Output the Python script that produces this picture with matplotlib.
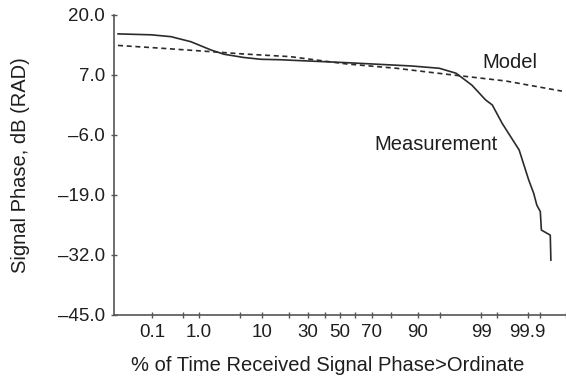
import math
from statistics import NormalDist

import numpy as np
import matplotlib
matplotlib.use("Agg")
import matplotlib.pyplot as plt

# valores (% do tempo, fase em dB)
meas_pct = [0.013, 0.095, 0.27, 0.71, 1.7, 2.8, 5.6, 9.6, 16.4, 20.7, 54.0, 88.0,
            94.9, 97.2, 98.5, 99.17, 99.39, 99.62, 99.84, 99.905, 99.928,
            99.940, 99.951, 99.954, 99.973, 99.974]
meas_db = [15.9, 15.7, 15.3, 14.2, 12.4, 11.5, 10.8, 10.4, 10.3, 10.2, 9.67, 8.95,
           8.45, 7.37, 4.8, 1.6, 0.5, -3.5, -9.25, -15.75, -18.6,
           -21.2, -22.6, -26.6, -27.7, -33.1]

model_pct = [0.013, 0.16, 1.7, 5.6, 20.7, 54.0, 82.3, 92.9, 97.5, 99.68, 99.987]
model_db = [13.4, 12.8, 12.05, 11.55, 10.97, 9.4, 8.45, 7.6, 6.85, 5.7, 3.5]

xticks = [0.1, 0.5, 1.0, 5, 10, 20, 30, 40, 50, 60, 70, 80, 90, 95,
          99, 99.5, 99.9, 99.95, 99.99]
xtick_labels = ["0.1", "", "1.0", "", "10", "", "30", "", "50", "", "70", "",
                "90", "", "99", "", "99.9", "", ""]
yticks = [20.0, 7.0, -6.0, -19.0, -32.0, -45.0]

_nd = NormalDist()

# escala de probabilidade normal (papel de probabilidade)
_fwd = np.vectorize(lambda v: _nd.inv_cdf(min(max(v, 1e-9), 1 - 1e-9)) if np.isfinite(v) else np.nan,
                    otypes=[float])
_inv = np.vectorize(lambda v: 50.0 * (1 + math.erf(v / math.sqrt(2))) if np.isfinite(v) else np.nan,
                    otypes=[float])


def prob_fwd(p):
    return _fwd(np.asarray(p, dtype=float) / 100.0)


def prob_inv(z):
    return _inv(np.asarray(z, dtype=float))


plt.rcParams["font.family"] = ["Liberation Sans", "DejaVu Sans"]
ink = "#2b2b2b"
txt = "#1e1e1e"

fig = plt.figure(figsize=(5.66, 3.78), dpi=100)
ax = fig.add_axes([0.2014, 0.1667, 0.7986, 0.7937])

ax.set_xscale("function", functions=(prob_fwd, prob_inv))
ax.plot(meas_pct, meas_db, color=ink, lw=1.2)
ax.plot(model_pct, model_db, color=ink, lw=1.2, ls=(0, (3, 2.2)))

ax.set_xlim(0.01, 99.99)
ax.set_ylim(-45, 20)
ax.set_xticks(xticks)
ax.set_xticklabels(xtick_labels)
ax.set_yticks(yticks)
ax.set_yticklabels([f"{v:.1f}".replace("-", "\u2013") for v in yticks])
ax.minorticks_off()

for s in ["top", "right"]:
    ax.spines[s].set_visible(False)
for s in ["left", "bottom"]:
    ax.spines[s].set_color("#555555")
    ax.spines[s].set_linewidth(1.2)

ax.tick_params(axis="both", direction="inout", length=5, width=1, color="#555555",
               labelsize=13.5, labelcolor=txt)
ax.tick_params(axis="x", pad=4)
ax.tick_params(axis="y", pad=4)

ax.text(99.03, 9.6, "Model", fontsize=14.5, color=txt, ha="left", va="center")
ax.text(71.5, -8.0, "Measurement", fontsize=14.5, color=txt, ha="left", va="center")

ax.set_xlabel("% of Time Received Signal Phase>Ordinate", fontsize=14.5, color=txt)
ax.xaxis.set_label_coords(0.473, -0.169)
ax.xaxis.label.set_va("center")
ax.set_ylabel("Signal Phase, dB (RAD)", fontsize=14.5, color=txt, labelpad=20)

fig.savefig("out.png", dpi=100)
